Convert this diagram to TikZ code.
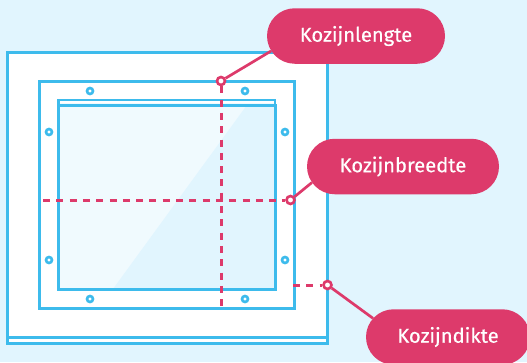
\documentclass[tikz,border=0pt]{standalone}
\usepackage{xcolor}
\usepackage{fontspec}
\setmainfont{Fira Sans}[FakeBold=0.35]
\usetikzlibrary{shapes.misc}

\definecolor{lucht}{HTML}{E1F5FE}
\definecolor{glas}{HTML}{F0FAFE}
\definecolor{kader}{HTML}{3DBBEC}
\definecolor{roze}{HTML}{DD3A6B}

\begin{document}
\begin{tikzpicture}[
  x=1pt, y=-1pt,
  frame/.style={
    draw=kader, line width=3pt
  },
  schroef/.style={
    shape=circle, draw=kader, fill=white, line width=2.6pt, inner sep=0pt, minimum size=6pt
  },
  ring/.style={
    shape=circle, draw=roze, fill=white, line width=2.6pt, inner sep=0pt, minimum size=8pt
  },
  pil/.style={
    shape=rounded rectangle, fill=roze, text=white, inner sep=0pt, minimum height=55.5pt,
    font=\fontsize{20.2pt}{24pt}\selectfont
  },
  maat/.style={
    draw=roze, line width=3pt, dash pattern=on 7pt off 6.3pt
  },
  lijn/.style={
    draw=roze, line width=2.7pt
  }
]

\useasboundingbox (0,0) rectangle (527,362);
\clip (0,0) rectangle (527,362);
\fill [lucht] (0,0) rectangle (527,362);

% kozijn
\draw [frame,fill=white] (7.5,52.5) rectangle (327,343);
\draw [frame] (7.5,337.5) -- (327,337.5);
\draw [frame] (39.8,81.5) rectangle (294,308);

% glas
\draw [fill=glas,draw=none] (58.5,100) rectangle (275,289);
\draw [fill=lucht,draw=none] (247,105) -- (275,105) -- (275,289) -- (113,289) -- cycle;
\draw [frame,line width=2.4pt] (58.5,100) rectangle (275,105);
\draw [fill=white,draw=none] (59.7,101.2) rectangle (273.8,103.4);
\draw [frame] (58.5,105.5) rectangle (275,289);

% schroeven
\draw (90,91) node [schroef] (s1) {};
\draw (245,91) node [schroef] (s2) {};
\draw (49,132) node [schroef] (s3) {};
\draw (285,132) node [schroef] (s4) {};
\draw (49,260) node [schroef] (s5) {};
\draw (285,260) node [schroef] (s6) {};
\draw (90,299) node [schroef] (s7) {};
\draw (245,299) node [schroef] (s8) {};

% labels
\draw (356,36) node [pil,minimum width=178pt] (lengte) {Kozijnlengte};
\draw (403,166.5) node [pil,minimum width=192pt] (breedte) {Kozijnbreedte};
\draw (448,337) node [pil,minimum width=164pt] (dikte) {Kozijndikte};

\draw (221,81) node [ring] (rl) {};
\draw (290.5,200) node [ring] (rb) {};
\draw (327.5,285) node [ring] (rd) {};

\coordinate (el) at (221,308);
\coordinate (eb) at (43,200);
\coordinate (ed) at (293,285);

\path [maat]
  (eb) edge (rb)
  (rl) edge (el)
  (ed) edge (rd);

\path [lijn]
  (rl) edge (lengte.190)
  (rb) edge (breedte.190)
  (rd) edge (dikte.166);

\end{tikzpicture}
\end{document}
